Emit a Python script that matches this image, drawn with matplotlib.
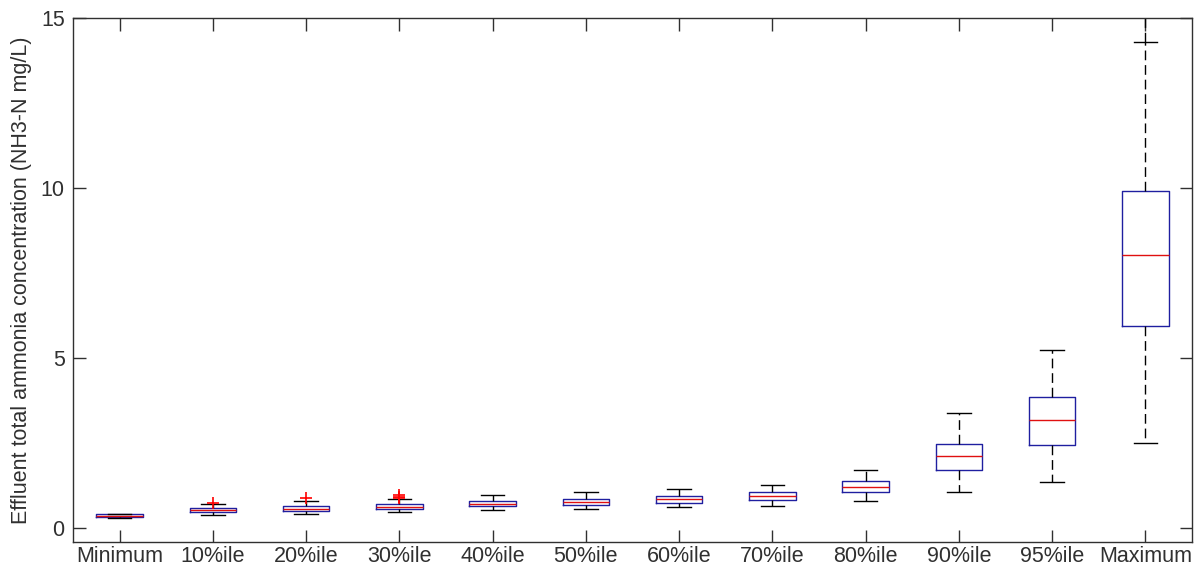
import matplotlib
matplotlib.use("Agg")
import matplotlib.pyplot as plt

categories = ["Minimum", "10%ile", "20%ile", "30%ile", "40%ile", "50%ile",
              "60%ile", "70%ile", "80%ile", "90%ile", "95%ile", "Maximum"]
whisker_low = [0.31, 0.38, 0.42, 0.47, 0.53, 0.57, 0.61, 0.66, 0.79, 1.06, 1.35, 2.50]
q1          = [0.33, 0.46, 0.50, 0.55, 0.65, 0.69, 0.74, 0.83, 1.06, 1.71, 2.44, 5.94]
median      = [0.36, 0.52, 0.57, 0.63, 0.72, 0.77, 0.84, 0.95, 1.21, 2.12, 3.18, 8.02]
q3          = [0.40, 0.59, 0.64, 0.72, 0.80, 0.85, 0.93, 1.07, 1.38, 2.47, 3.85, 9.92]
whisker_high= [0.42, 0.70, 0.79, 0.85, 0.97, 1.07, 1.16, 1.28, 1.71, 3.38, 5.24, 14.30]
outliers    = [[], [0.75], [0.87], [0.89, 0.92, 0.96], [], [], [], [], [], [], [], []]
yticks = [0, 5, 10, 15]
ylabel = "Effluent total ammonia concentration (NH3-N mg/L)"

plt.rcParams['font.family'] = ['Liberation Sans', 'DejaVu Sans']

fig = plt.figure(figsize=(11.97, 5.72), dpi=100)
ax = fig.add_axes([73/1197, 1-542/572, (1192-73)/1197, (542-18)/572])

stats = []
for i, name in enumerate(categories):
    stats.append(dict(label=name, whislo=whisker_low[i], q1=q1[i], med=median[i],
                      q3=q3[i], whishi=whisker_high[i], fliers=outliers[i]))

positions = list(range(1, len(categories) + 1))
dash = (0, (7, 3.5))
ax.bxp(stats, positions=positions, widths=0.5, showfliers=True,
       boxprops=dict(color='#1f1fa0', linewidth=1.0),
       medianprops=dict(color='#e01010', linewidth=1.0),
       whiskerprops=dict(color='black', linewidth=1.0, linestyle=dash),
       capprops=dict(color='black', linewidth=1.0),
       flierprops=dict(marker='+', markeredgecolor='#ff0000', markersize=9,
                       markeredgewidth=1.2, linestyle='none'),
       capwidths=0.25)

# whisker segment continuing above the top of the axes for the last group
ax.vlines(positions[-1], whisker_high[-1], 15.1, colors='black', linewidth=1.0,
          linestyles=dash, clip_on=False)

ax.set_xlim(0.5, 12.5)
ax.set_ylim(-0.41, 15)
ax.set_yticks(yticks)
ax.set_yticklabels([str(t) for t in yticks])
ax.set_xticks(positions)
ax.set_xticklabels(categories)
ax.tick_params(direction='in', length=9, width=1, top=True, right=True,
               labelsize=15.5, labelcolor='#303030', colors='#303030')
ax.tick_params(axis='x', pad=3)
ax.tick_params(axis='y', pad=6)
for s in ax.spines.values():
    s.set_linewidth(1.0)
    s.set_color('#303030')
ax.set_ylabel(ylabel, fontsize=15.5, color='#303030', labelpad=6)

fig.savefig("out.png", dpi=100, facecolor='white')
